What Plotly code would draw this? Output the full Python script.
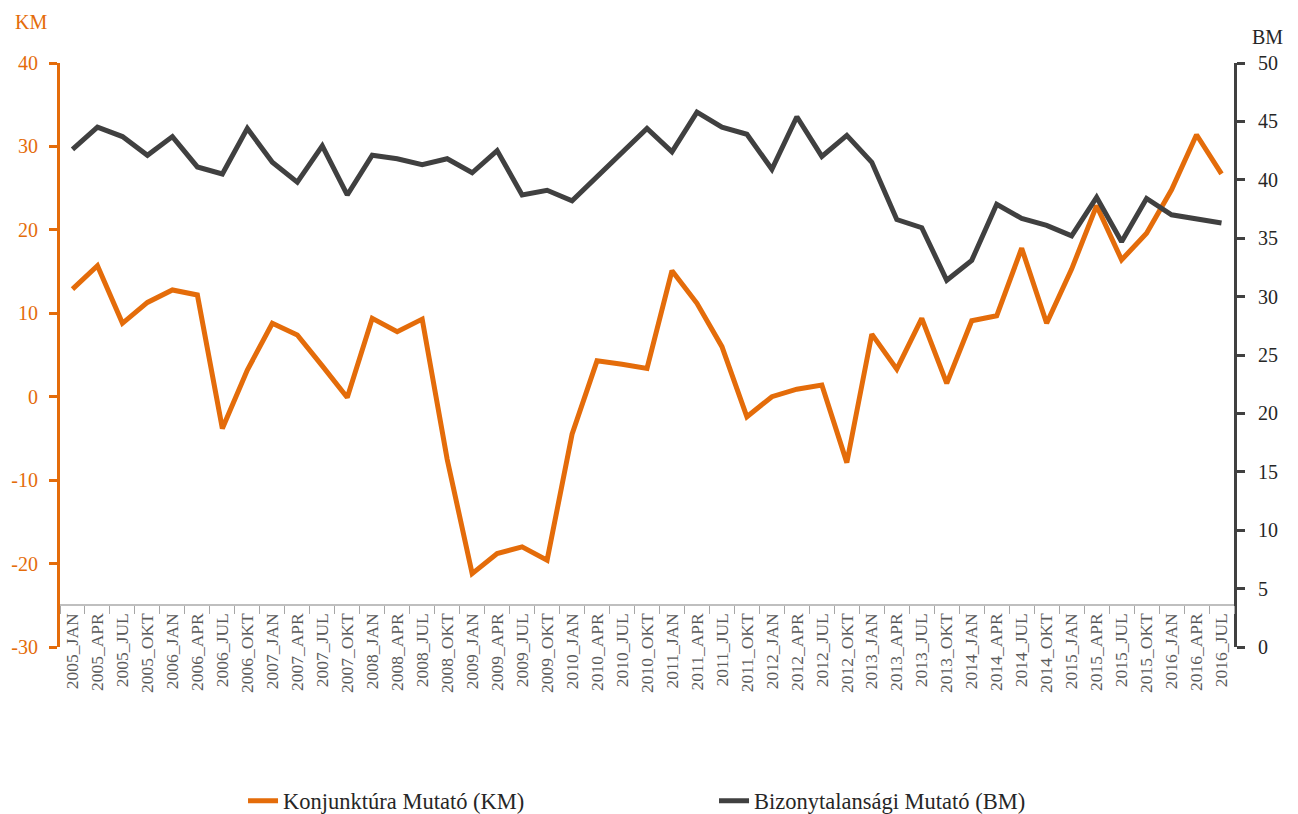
import plotly.graph_objects as go

years = list(range(2005, 2017))
months = ["JAN", "APR", "JUL", "OKT"]
categories = [f"{y}_{m}" for y in years for m in months][:47]

km_values = [12.9, 15.7, 8.8, 11.3, 12.8, 12.2, -3.8, 3.2, 8.8, 7.4, 3.7, -0.1,
             9.4, 7.8, 9.3, -7.5, -21.2, -18.8, -18.0, -19.6, -4.5, 4.3, 3.9, 3.4,
             15.1, 11.2, 6.0, -2.4, 0.0, 0.9, 1.4, -7.9, 7.5, 3.3, 9.4, 1.6,
             9.1, 9.7, 17.8, 8.8, 15.3, 22.9, 16.4, 19.6, 24.8, 31.4, 26.7]

bm_values = [42.6, 44.5, 43.7, 42.1, 43.7, 41.1, 40.5, 44.4, 41.5, 39.8, 42.9, 38.7,
             42.1, 41.8, 41.3, 41.8, 40.6, 42.5, 38.7, 39.1, 38.2, 40.3, 42.4, 44.4,
             42.4, 45.8, 44.5, 43.9, 40.9, 45.4, 42.0, 43.8, 41.5, 36.6, 35.9, 31.4,
             33.1, 37.9, 36.7, 36.1, 35.2, 38.5, 34.7, 38.4, 37.0, 36.6, 36.3]

km_ticks = [-30, -20, -10, 0, 10, 20, 30, 40]
km_ticktext = ["-30", "-20", "-10", "0", "10", "20", "30", "40"]
bm_ticks = [0, 5, 10, 15, 20, 25, 30, 35, 40, 45, 50]

ORANGE = "#E46C0A"
DARK = "#404040"
FONT = "Liberation Serif, Times New Roman, DejaVu Serif, serif"

fig = go.Figure()
fig.add_trace(go.Scatter(x=categories, y=km_values, mode="lines",
                         name="Konjunktúra Mutató (KM)",
                         line=dict(color=ORANGE, width=5), yaxis="y"))
fig.add_trace(go.Scatter(x=categories, y=bm_values, mode="lines",
                         name="Bizonytalansági Mutató (BM)",
                         line=dict(color=DARK, width=5), yaxis="y2"))

fig.update_layout(
    width=1290, height=806,
    margin=dict(l=52, r=64, t=55, b=167, autoexpand=False),
    plot_bgcolor="white", paper_bgcolor="white",
    font=dict(family=FONT, size=20, color="#262626"),
    showlegend=True,
    legend=dict(orientation="h", x=0.1559, xanchor="left", y=-0.2637, yanchor="middle",
                entrywidth=426, entrywidthmode="pixels",
                font=dict(family=FONT, size=22.5), itemwidth=30, traceorder="normal"),
    xaxis=dict(type="category", anchor="free", position=5/70, automargin=False,
               showline=True, linecolor="#BFBFBF", linewidth=2,
               ticks="outside", tickson="boundaries", ticklen=8, tickcolor="#A6A6A6", tickwidth=1,
               tickangle=-90, tickfont=dict(family=FONT, size=17.5, color="#595959"),
               showgrid=False, zeroline=False, range=[-0.5, 46.5]),
    yaxis=dict(range=[-30, 40], tickvals=km_ticks, ticktext=km_ticktext, automargin=False,
               showline=True, linecolor=ORANGE, linewidth=3,
               ticks="outside", ticklen=8, tickcolor=ORANGE, tickwidth=3,
               ticklabelstandoff=7,
               tickfont=dict(family=FONT, size=20, color=ORANGE),
               showgrid=False, zeroline=False),
    yaxis2=dict(range=[0, 50], tickvals=bm_ticks, overlaying="y", side="right", anchor="x",
                automargin=False, showline=True, linecolor=DARK, linewidth=3,
                ticks="outside", ticklen=8, tickcolor=DARK, tickwidth=3,
                ticklabelstandoff=9,
                tickfont=dict(family=FONT, size=20, color="#262626"),
                showgrid=False, zeroline=False),
    annotations=[
        dict(text="KM", xref="paper", yref="paper", x=-0.040, y=1.070, xanchor="left",
             yanchor="middle", showarrow=False, font=dict(family=FONT, size=20, color=ORANGE)),
        dict(text="BM", xref="paper", yref="paper", x=1.0136, y=1.0445, xanchor="left",
             yanchor="middle", showarrow=False, font=dict(family=FONT, size=20, color="#262626")),
    ],
)

fig.write_html("out.html")
